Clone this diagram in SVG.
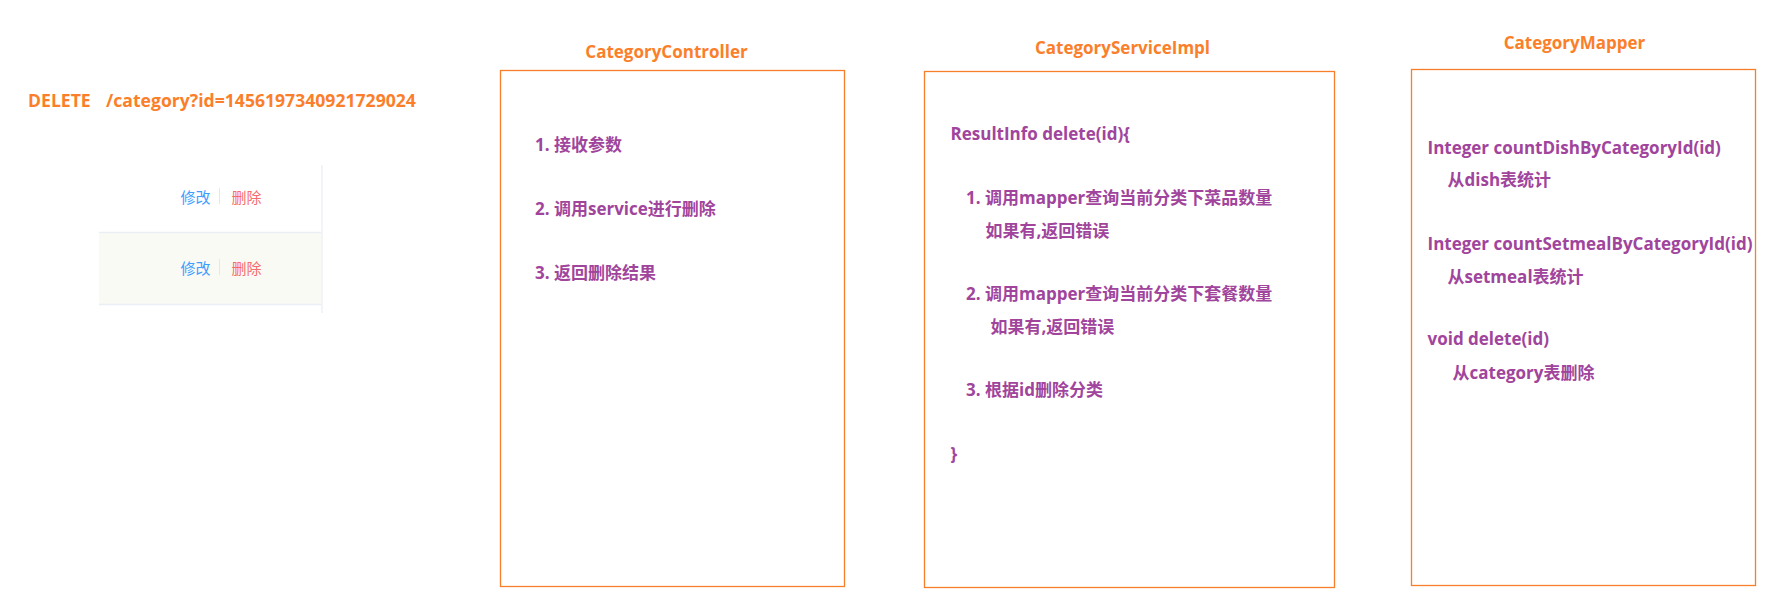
<svg xmlns="http://www.w3.org/2000/svg" width="1791" height="605" viewBox="0 0 1791 605">
<style>
.t{font-family:"Open Sans","Noto Sans CJK SC",sans-serif;font-weight:bold;font-size:17px;fill:#a0449c}
.h{font-family:"Open Sans","Noto Sans CJK SC",sans-serif;font-weight:bold;font-size:17px;fill:#fb7f2a}
.box{fill:#fff;stroke:#f77f2c;stroke-width:1.3}
.op{font-family:"Noto Sans CJK SC",sans-serif;font-size:15px}
.ln{stroke:#ebeef5;stroke-width:1.3}
</style>
<rect width="1791" height="605" fill="#fff"/>
<g id="request">
<text class="h" x="28" y="107" style="font-size:17.6px">DELETE</text>
<text class="h" x="106" y="107" style="font-size:17.6px">/category?id=1456197340921729024</text>
</g>
<g id="table">
<rect x="99" y="232" width="222" height="72" fill="#fafaf4"/>
<line class="ln" x1="99" y1="232.5" x2="321" y2="232.5"/>
<line class="ln" x1="99" y1="304.5" x2="321" y2="304.5"/>
<line class="ln" x1="322" y1="165" x2="322" y2="313"/>
<text class="op" x="180.5" y="202.5" fill="#409eff">修改</text>
<line x1="219.5" y1="188" x2="219.5" y2="204" stroke="#e4e7ed"/>
<text class="op" x="231.5" y="202.5" fill="#f56c6c">删除</text>
<text class="op" x="180.5" y="274" fill="#409eff">修改</text>
<line x1="219.5" y1="259" x2="219.5" y2="275" stroke="#e4e7ed"/>
<text class="op" x="231.5" y="274" fill="#f56c6c">删除</text>
</g>
<g id="controller">
<text class="h" x="666.5" y="57.5" text-anchor="middle">CategoryController</text>
<rect class="box" x="500.5" y="70.5" width="344" height="516"/>
<text class="t" x="535" y="151">1. 接收参数</text>
<text class="t" x="535" y="214.5">2. 调用service进行删除</text>
<text class="t" x="535" y="278.5">3. 返回删除结果</text>
</g>
<g id="service">
<text class="h" x="1122.5" y="53.5" text-anchor="middle">CategoryServiceImpl</text>
<rect class="box" x="924.5" y="71.5" width="410" height="516"/>
<text class="t" x="950.5" y="140">ResultInfo delete(id){</text>
<text class="t" x="966" y="204">1. 调用mapper查询当前分类下菜品数量</text>
<text class="t" x="985.5" y="236.5">如果有,返回错误</text>
<text class="t" x="966" y="299.5">2. 调用mapper查询当前分类下套餐数量</text>
<text class="t" x="990.5" y="332.5">如果有,返回错误</text>
<text class="t" x="966" y="396">3. 根据id删除分类</text>
<text class="t" x="950.5" y="460">}</text>
</g>
<g id="mapper">
<text class="h" x="1574.5" y="48.5" text-anchor="middle">CategoryMapper</text>
<rect class="box" x="1411.5" y="69.5" width="344" height="516"/>
<text class="t" x="1427.5" y="154">Integer countDishByCategoryId(id)</text>
<text class="t" x="1447.5" y="186">从dish表统计</text>
<text class="t" x="1427.5" y="250">Integer countSetmealByCategoryId(id)</text>
<text class="t" x="1447.5" y="282.5">从setmeal表统计</text>
<text class="t" x="1427.5" y="345">void delete(id)</text>
<text class="t" x="1452.5" y="378.5">从category表删除</text>
</g>
<g id="connectors"></g>
</svg>
